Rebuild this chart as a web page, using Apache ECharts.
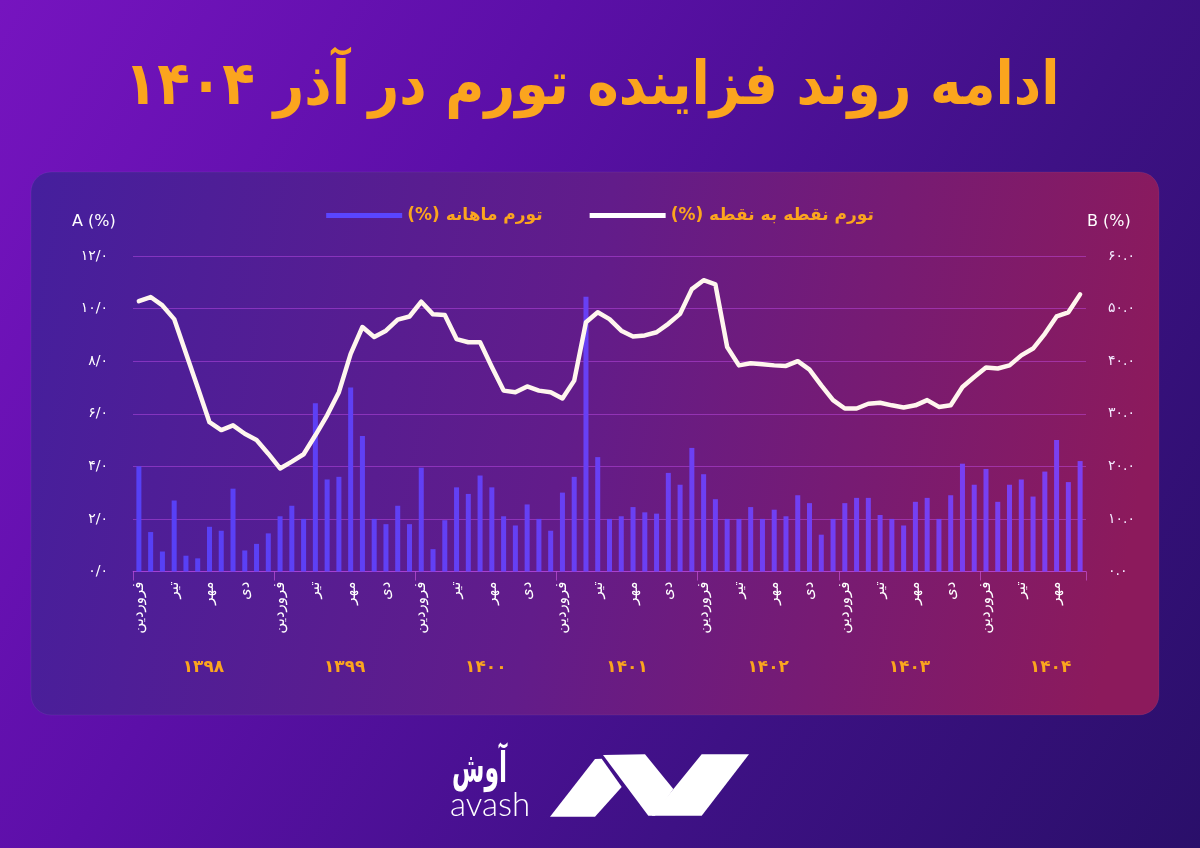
<!DOCTYPE html>
<html>
<head>
<meta charset="utf-8">
<script src="https://cdn.jsdelivr.net/npm/echarts@6/dist/echarts.min.js"></script>
<style>
html,body{margin:0;padding:0;width:1200px;height:848px;overflow:hidden;}
#c{width:1200px;height:848px;background:linear-gradient(120deg,#7614bf 0%,#5c0fa8 33%,#3e1185 68%,#2a0f6a 100%);}
</style>
</head>
<body>
<div id="c"></div>
<script>
// ---------- data ----------
const monthNames = ['فروردین','اردیبهشت','خرداد','تیر','مرداد','شهریور','مهر','آبان','آذر','دی','بهمن','اسفند'];
const years = ['۱۳۹۸','۱۳۹۹','۱۴۰۰','۱۴۰۱','۱۴۰۲','۱۴۰۳','۱۴۰۴'];
const monthsInYear = [12,12,12,12,12,12,9];

const monthlyInflation = [
  4.0, 1.5, 0.76, 2.7, 0.6, 0.5, 1.7, 1.55, 3.15, 0.8, 1.05, 1.45,
  2.1, 2.5, 2.0, 6.4, 3.5, 3.6, 7.0, 5.15, 2.0, 1.8, 2.5, 1.8,
  3.95, 0.85, 1.95, 3.2, 2.95, 3.65, 3.2, 2.1, 1.75, 2.55, 2.0, 1.55,
  3.0, 3.6, 10.45, 4.35, 2.0, 2.1, 2.45, 2.25, 2.2, 3.75, 3.3, 4.7,
  3.7, 2.75, 2.0, 2.0, 2.45, 2.0, 2.35, 2.1, 2.9, 2.6, 1.4, 2.0,
  2.6, 2.8, 2.8, 2.15, 2.0, 1.75, 2.65, 2.8, 2.0, 2.9, 4.1, 3.3,
  3.9, 2.65, 3.3, 3.5, 2.85, 3.8, 5.0, 3.4, 4.2
];
const pointInflation = [
  51.4, 52.2, 50.6, 48.0, 41.5, 35.0, 28.4, 26.9, 27.8, 26.2, 25.0, 22.4,
  19.6, 20.9, 22.3, 25.9, 29.7, 34.1, 41.4, 46.5, 44.6, 45.8, 47.9, 48.5,
  51.3, 48.9, 48.8, 44.2, 43.6, 43.6, 38.9, 34.4, 34.1, 35.2, 34.4, 34.1,
  32.9, 36.3, 47.4, 49.3, 48.0, 45.8, 44.7, 44.9, 45.5, 47.1, 49.0, 53.7,
  55.4, 54.6, 42.7, 39.2, 39.6, 39.4, 39.2, 39.1, 40.0, 38.4, 35.4, 32.6,
  31.0, 31.0, 31.9, 32.1, 31.6, 31.2, 31.6, 32.6, 31.3, 31.6, 35.1, 37.0,
  38.8, 38.6, 39.2, 41.1, 42.4, 45.2, 48.5, 49.3, 52.7
];
const leftTickLabels = ['۰/۰','۲/۰','۴/۰','۶/۰','۸/۰','۱۰/۰','۱۲/۰'];
const rightTickLabels = ['۰.۰','۱۰.۰','۲۰.۰','۳۰.۰','۴۰.۰','۵۰.۰','۶۰.۰'];
const seriesNames = ['(%) تورم ماهانه','(%) تورم نقطه به نقطه'];
const titleText = 'ادامه روند فزاینده تورم در آذر ۱۴۰۴';
const leftAxisName = 'A (%)';
const rightAxisName = 'B (%)';
const brandFa = 'آوش';
const brandEn = 'avash';

// categories built from the arrays above
const categories = [];
years.forEach((y, yi) => {
  for (let m = 0; m < monthsInYear[yi]; m++) categories.push(monthNames[m] + ' ' + y);
});

// ---------- chart ----------
const FONT = '"DejaVu Sans", sans-serif';
const chart = echarts.init(document.getElementById('c'), null, {renderer: 'canvas'});
const gridColor = 'rgba(200,80,240,0.45)';

const option = {
  backgroundColor: 'transparent',
  animation: false,
  textStyle: {fontFamily: FONT},
  legend: {
    top: 202, left: 'center',
    icon: 'rect', itemWidth: 76, itemHeight: 5, itemGap: 47,
    textStyle: {color: '#FBA51E', fontSize: 17, fontWeight: 'bold', fontFamily: FONT},
    data: [
      {name: seriesNames[0], itemStyle: {color: '#5a45ff'}},
      {name: seriesNames[1], itemStyle: {color: '#ffffff'}}
    ]
  },
  grid: {left: 133, right: 114, top: 256, bottom: 276.5},
  xAxis: [
    {
      type: 'category', data: categories, boundaryGap: true,
      axisLine: {show: true, lineStyle: {color: gridColor, width: 1}},
      axisTick: {show: true, interval: 11, length: 9, lineStyle: {color: 'rgba(210,90,230,0.6)'}},
      axisLabel: {
        interval: 2, rotate: 90, margin: 10, color: '#ffffff', fontSize: 15, fontFamily: FONT,
        formatter: v => v.split(' ')[0]
      }
    },
    {
      type: 'category', data: categories, boundaryGap: true, position: 'bottom', offset: 80,
      axisLine: {show: false}, axisTick: {show: false},
      axisLabel: {
        interval: (i) => i % 12 === 6, margin: 8, color: '#FBA51E', fontSize: 17, fontWeight: 'bold',
        fontFamily: FONT, padding: [0, 12, 0, 0],
        formatter: v => v.split(' ')[1]
      }
    }
  ],
  yAxis: [
    {
      type: 'value', min: 0, max: 12, interval: 2, position: 'left',
      axisLine: {show: false}, axisTick: {show: false},
      splitLine: {show: true, lineStyle: {color: gridColor, width: 1.2}},
      axisLabel: {margin: 25, color: '#ffffff', fontSize: 14, fontFamily: FONT,
        formatter: v => leftTickLabels[Math.round(v / 2)]}
    },
    {
      type: 'value', min: 0, max: 60, interval: 10, position: 'right',
      axisLine: {show: false}, axisTick: {show: false}, splitLine: {show: false},
      axisLabel: {margin: 22, color: '#f4eaff', fontSize: 14, fontFamily: FONT,
        formatter: v => rightTickLabels[Math.round(v / 10)]}
    }
  ],
  series: [
    {
      name: seriesNames[0], type: 'bar', xAxisIndex: 0, yAxisIndex: 0,
      data: monthlyInflation, barWidth: 5,
      itemStyle: {color: new echarts.graphic.LinearGradient(133, 0, 1086, 0, [
        {offset: 0, color: '#5640f6'}, {offset: 1, color: '#7c3ff2'}], true)}
    },
    {
      name: seriesNames[1], type: 'line', xAxisIndex: 0, yAxisIndex: 1,
      data: pointInflation, symbol: 'none', smooth: false,
      lineStyle: {color: '#fff6ee', width: 4.5, join: 'round', cap: 'round'},
      itemStyle: {color: '#ffffff'}, z: 5
    }
  ],
  graphic: [
    {
      type: 'rect', z: -100, silent: true,
      shape: {x: 31, y: 172, width: 1128, height: 543, r: 20},
      style: {
        fill: new echarts.graphic.LinearGradient(0, 0, 1, 0.4, [
          {offset: 0, color: '#451f9d'}, {offset: 0.5, color: '#621c8a'}, {offset: 1, color: '#8c1a5c'}]),
        stroke: 'rgba(255,255,255,0.06)', lineWidth: 1
      }
    },
    {
      type: 'text', z: 10, x: 592, y: 88, scaleX: 0.89,
      style: {text: titleText, fill: '#FBA51E', font: 'bold 60px "DejaVu Sans"', textAlign: 'center', textVerticalAlign: 'middle'}
    },
    {
      type: 'text', z: 10, x: 72, y: 222,
      style: {text: leftAxisName, fill: '#ffffff', font: '16px "DejaVu Sans"', textAlign: 'left', textVerticalAlign: 'middle'}
    },
    {
      type: 'text', z: 10, x: 1087, y: 222,
      style: {text: rightAxisName, fill: '#ffffff', font: '16px "DejaVu Sans"', textAlign: 'left', textVerticalAlign: 'middle'}
    },
    // logo
    {
      type: 'polygon', z: 10, silent: true,
      shape: {points: [[550,816.7],[595,816.7],[621.7,787],[601.7,758.7],[595,759]]},
      style: {fill: '#ffffff'}
    },
    {
      type: 'polygon', z: 10, silent: true,
      shape: {points: [[603,755],[645,754.3],[673.3,789],[655,815.7],[648.3,815.7]]},
      style: {fill: '#ffffff'}
    },
    {
      type: 'polygon', z: 10, silent: true,
      shape: {points: [[651.7,815.7],[701.7,815.7],[749,754.3],[701.7,754.3]]},
      style: {fill: '#ffffff'}
    },
    {
      type: 'text', z: 10, x: 452, y: 771, scaleX: 0.56,
      style: {text: brandFa, fill: '#ffffff', font: 'bold 42px "DejaVu Sans"', textAlign: 'left', textVerticalAlign: 'middle'}
    },
    {
      type: 'text', z: 10, x: 450, y: 805,
      style: {text: brandEn, fill: '#ffffff', font: '300 33px Lato', textAlign: 'left', textVerticalAlign: 'middle'}
    }
  ]
};
chart.setOption(option);
</script>
</body>
</html>
